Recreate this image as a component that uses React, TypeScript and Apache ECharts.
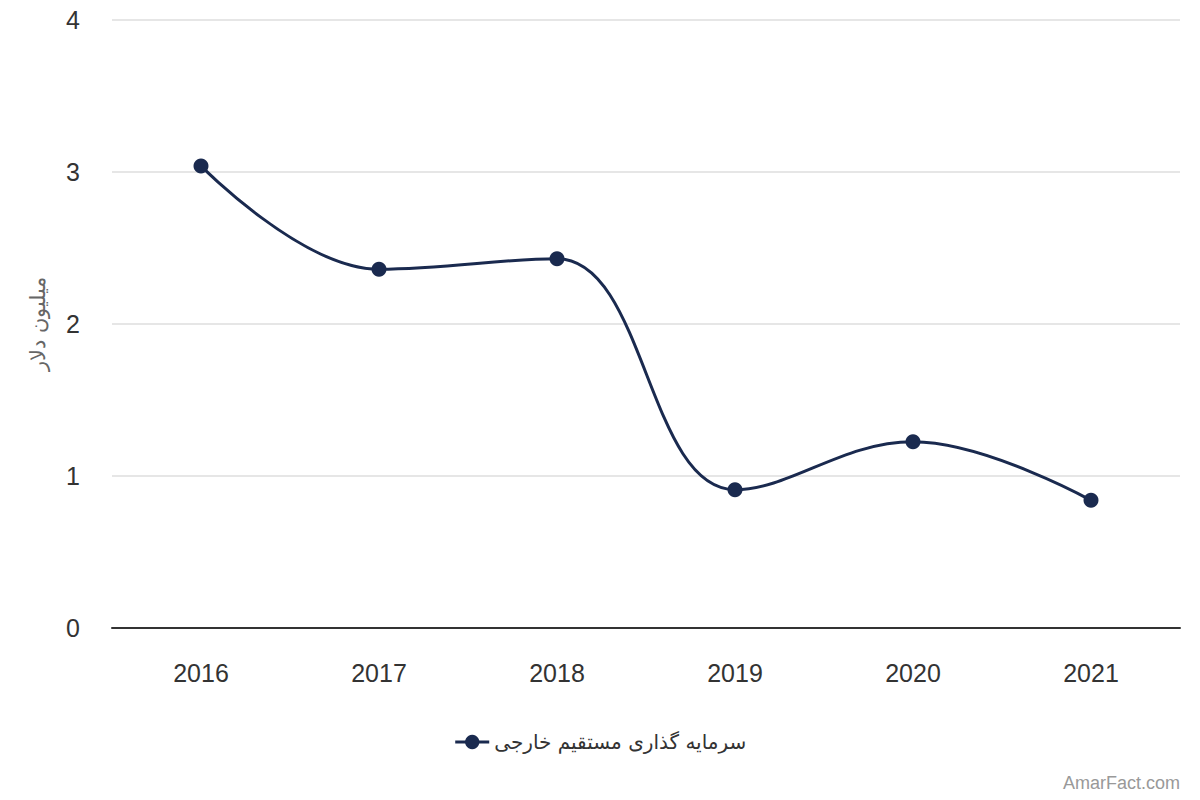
import React, { useEffect, useRef } from "react";
import * as echarts from "echarts";

const categories = ["2016", "2017", "2018", "2019", "2020", "2021"];
const values = [3.04, 2.36, 2.43, 0.91, 1.225, 0.84];
const seriesName = "سرمایه گذاری مستقیم خارجی";
const yAxisTitle = "میلیون دلار";
const watermark = "AmarFact.com";

export default function App() {
  const ref = useRef<HTMLDivElement>(null);
  useEffect(() => {
    if (!ref.current) return;
    const chart = echarts.init(ref.current, null, { renderer: "svg" });
    chart.setOption({
      animation: false,
      backgroundColor: "#ffffff",
      textStyle: { fontFamily: "Arial, 'Liberation Sans', sans-serif" },
      grid: { left: 112, right: 20, top: 20, bottom: 172 },
      legend: {
        bottom: 43,
        left: "center",
        itemWidth: 34,
        itemHeight: 18,
        itemGap: 8,
        lineStyle: { width: 3 },
        textStyle: { fontSize: 20, color: "#333333", fontFamily: "DejaVu Sans, sans-serif" },
        data: [seriesName],
      },
      graphic: [
        {
          type: "text",
          right: 20,
          bottom: 8,
          style: { text: watermark, fontSize: 18, fill: "#999999", fontFamily: "Arial, 'Liberation Sans', sans-serif" },
        },
      ],
      xAxis: {
        type: "category",
        data: categories,
        boundaryGap: true,
        axisLine: { lineStyle: { color: "#333333", width: 2 } },
        axisTick: { show: false },
        axisLabel: { fontSize: 25, color: "#333333", margin: 32 },
      },
      yAxis: {
        type: "value",
        min: 0,
        max: 4,
        interval: 1,
        name: yAxisTitle,
        nameLocation: "middle",
        nameGap: 64,
        nameRotate: 90,
        nameTextStyle: { fontSize: 21, color: "#666666", fontFamily: "DejaVu Serif, serif" },
        axisLine: { show: false },
        axisTick: { show: false },
        axisLabel: { fontSize: 25, color: "#333333", margin: 32 },
        splitLine: { lineStyle: { color: "#e6e6e6", width: 2 } },
      },
      series: [
        {
          name: seriesName,
          type: "line",
          data: values,
          smooth: 0.4,
          symbol: "circle",
          symbolSize: 15,
          itemStyle: { color: "#1a2a4f" },
          lineStyle: { color: "#1a2a4f", width: 3 },
        },
      ],
    });
    return () => chart.dispose();
  }, []);
  return <div ref={ref} style={{ width: 1200, height: 800, marginLeft: -8, marginTop: -8 }} />;
}
